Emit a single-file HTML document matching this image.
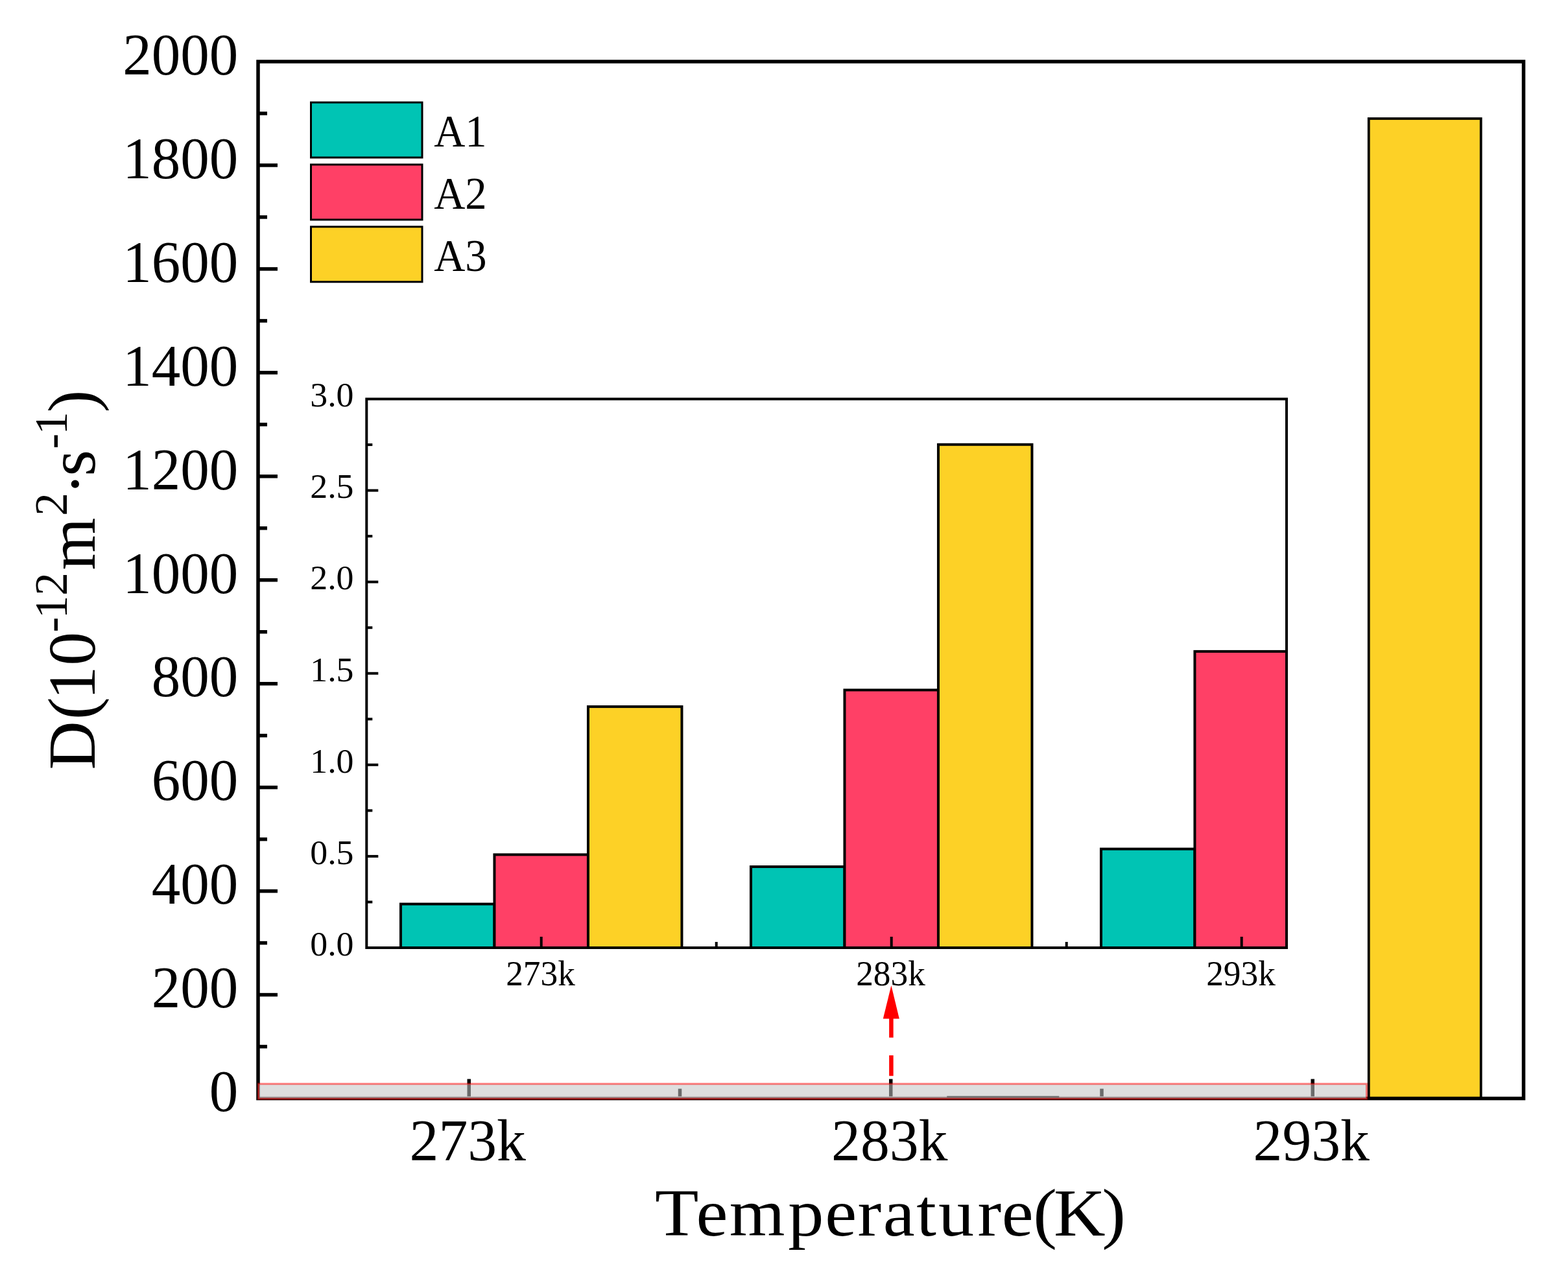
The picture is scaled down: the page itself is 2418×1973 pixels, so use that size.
<!DOCTYPE html>
<html><head><meta charset="utf-8"><style>html,body{margin:0;padding:0;background:#fff;}svg{display:block;}</style></head>
<body>
<svg width="2418" height="1973" viewBox="0 0 2418 1973" font-family="&quot;Liberation Serif&quot;, serif" fill="#000">
<rect width="2418" height="1973" fill="#fff"/>
<rect x="2110.75" y="182.97" width="173.00" height="1511.53" fill="#FDD126" stroke="#000" stroke-width="3.8"/>
<g stroke="#000" stroke-width="5.5" fill="none">
<rect x="398.0" y="95.0" width="1951.5" height="1599.5" stroke-linejoin="miter"/>
<line x1="398.0" y1="1614.53" x2="412.0" y2="1614.53"/>
<line x1="398.0" y1="1534.55" x2="428.0" y2="1534.55"/>
<line x1="398.0" y1="1454.58" x2="412.0" y2="1454.58"/>
<line x1="398.0" y1="1374.60" x2="428.0" y2="1374.60"/>
<line x1="398.0" y1="1294.62" x2="412.0" y2="1294.62"/>
<line x1="398.0" y1="1214.65" x2="428.0" y2="1214.65"/>
<line x1="398.0" y1="1134.67" x2="412.0" y2="1134.67"/>
<line x1="398.0" y1="1054.70" x2="428.0" y2="1054.70"/>
<line x1="398.0" y1="974.73" x2="412.0" y2="974.73"/>
<line x1="398.0" y1="894.75" x2="428.0" y2="894.75"/>
<line x1="398.0" y1="814.77" x2="412.0" y2="814.77"/>
<line x1="398.0" y1="734.80" x2="428.0" y2="734.80"/>
<line x1="398.0" y1="654.83" x2="412.0" y2="654.83"/>
<line x1="398.0" y1="574.85" x2="428.0" y2="574.85"/>
<line x1="398.0" y1="494.88" x2="412.0" y2="494.88"/>
<line x1="398.0" y1="414.90" x2="428.0" y2="414.90"/>
<line x1="398.0" y1="334.92" x2="412.0" y2="334.92"/>
<line x1="398.0" y1="254.95" x2="428.0" y2="254.95"/>
<line x1="398.0" y1="174.97" x2="412.0" y2="174.97"/>
<line x1="723.25" y1="1694.5" x2="723.25" y2="1664.5"/>
<line x1="1373.75" y1="1694.5" x2="1373.75" y2="1664.5"/>
<line x1="2024.25" y1="1694.5" x2="2024.25" y2="1664.5"/>
<line x1="1048.50" y1="1694.5" x2="1048.50" y2="1679.5"/>
<line x1="1699.00" y1="1694.5" x2="1699.00" y2="1679.5"/>
</g>
<rect x="398.5" y="1672" width="1709.00" height="23.00" fill="rgb(195,195,195)" fill-opacity="0.55" stroke="#f00" stroke-opacity="0.5" stroke-width="3.0"/>
<rect x="400.80" y="1691.0" width="1705.20" height="2.2" fill="rgb(205,195,195)" fill-opacity="0.6"/>
<rect x="1460.25" y="1690.7" width="173.00" height="2.2" fill="#6e6e6e"/>
<text transform="translate(322.86,1714.29) scale(0.9788,1)" font-size="90.98">0</text>
<text transform="translate(233.81,1554.34) scale(0.9788,1)" font-size="90.98">200</text>
<text transform="translate(233.81,1394.39) scale(0.9788,1)" font-size="90.98">400</text>
<text transform="translate(233.81,1234.44) scale(0.9788,1)" font-size="90.98">600</text>
<text transform="translate(233.81,1074.49) scale(0.9788,1)" font-size="90.98">800</text>
<text transform="translate(189.28,914.54) scale(0.9788,1)" font-size="90.98">1000</text>
<text transform="translate(189.28,754.59) scale(0.9788,1)" font-size="90.98">1200</text>
<text transform="translate(189.28,594.64) scale(0.9788,1)" font-size="90.98">1400</text>
<text transform="translate(189.28,434.69) scale(0.9788,1)" font-size="90.98">1600</text>
<text transform="translate(189.28,274.74) scale(0.9788,1)" font-size="90.98">1800</text>
<text transform="translate(189.28,114.79) scale(0.9788,1)" font-size="90.98">2000</text>
<text transform="translate(631.55,1789.58) scale(0.9793,1)" font-size="91.62">273k</text>
<text transform="translate(1282.05,1789.58) scale(0.9793,1)" font-size="91.62">283k</text>
<text transform="translate(1932.55,1789.58) scale(0.9793,1)" font-size="91.62">293k</text>
<text transform="scale(1.06,1)" font-size="104.00" x="952.85 1012.74 1061.08 1146.39 1200.19 1247.63 1284.60 1333.21 1365.06 1422.21 1457.25 1503.10 1532.98 1603.16" y="1905.7">Temperature(K)</text>
<rect x="479.5" y="158.00" width="171.5" height="85" fill="#00C4B4" stroke="#000" stroke-width="3"/>
<rect x="479.5" y="253.90" width="171.5" height="85" fill="#FF4066" stroke="#000" stroke-width="3"/>
<rect x="479.5" y="349.80" width="171.5" height="85" fill="#FDD126" stroke="#000" stroke-width="3"/>
<text transform="translate(669.13,225.70) scale(0.9544,1)" font-size="69.85">A1</text>
<text transform="translate(669.13,321.60) scale(0.9544,1)" font-size="69.85">A2</text>
<text transform="translate(669.13,417.50) scale(0.9544,1)" font-size="69.85">A3</text>
<rect x="565.3" y="615.5" width="1418.70" height="846.50" fill="#fff"/>
<clipPath id="ic"><rect x="565.3" y="615.5" width="1418.70" height="846.50"/></clipPath>
<g clip-path="url(#ic)">
<rect x="617.95" y="1394.56" width="144.50" height="67.44" fill="#00C4B4" stroke="#000" stroke-width="4"/>
<rect x="762.45" y="1318.38" width="144.50" height="143.62" fill="#FF4066" stroke="#000" stroke-width="4"/>
<rect x="906.95" y="1090.10" width="144.50" height="371.90" fill="#FDD126" stroke="#000" stroke-width="4"/>
<rect x="1157.95" y="1337.00" width="144.50" height="125.00" fill="#00C4B4" stroke="#000" stroke-width="4"/>
<rect x="1302.45" y="1064.43" width="144.50" height="397.57" fill="#FF4066" stroke="#000" stroke-width="4"/>
<rect x="1446.95" y="685.76" width="144.50" height="776.24" fill="#FDD126" stroke="#000" stroke-width="4"/>
<rect x="1697.95" y="1309.63" width="144.50" height="152.37" fill="#00C4B4" stroke="#000" stroke-width="4"/>
<rect x="1842.45" y="1004.89" width="144.50" height="457.11" fill="#FF4066" stroke="#000" stroke-width="4"/>
</g>
<g stroke="#000" stroke-width="4" fill="none">
<rect x="565.3" y="615.5" width="1418.70" height="846.50"/>
<line x1="565.3" y1="1391.46" x2="574.3" y2="1391.46"/>
<line x1="565.3" y1="1320.92" x2="583.3" y2="1320.92"/>
<line x1="565.3" y1="1250.38" x2="574.3" y2="1250.38"/>
<line x1="565.3" y1="1179.83" x2="583.3" y2="1179.83"/>
<line x1="565.3" y1="1109.29" x2="574.3" y2="1109.29"/>
<line x1="565.3" y1="1038.75" x2="583.3" y2="1038.75"/>
<line x1="565.3" y1="968.21" x2="574.3" y2="968.21"/>
<line x1="565.3" y1="897.67" x2="583.3" y2="897.67"/>
<line x1="565.3" y1="827.12" x2="574.3" y2="827.12"/>
<line x1="565.3" y1="756.58" x2="583.3" y2="756.58"/>
<line x1="565.3" y1="686.04" x2="574.3" y2="686.04"/>
<line x1="834.70" y1="1462.0" x2="834.70" y2="1445.0"/>
<line x1="1374.70" y1="1462.0" x2="1374.70" y2="1445.0"/>
<line x1="1914.70" y1="1462.0" x2="1914.70" y2="1445.0"/>
<line x1="1104.70" y1="1462.0" x2="1104.70" y2="1453.0"/>
<line x1="1644.70" y1="1462.0" x2="1644.70" y2="1453.0"/>
</g>
<text transform="translate(478.21,1473.80) scale(1.0221,1)" font-size="52.70">0.0</text>
<text transform="translate(478.21,1332.72) scale(1.0221,1)" font-size="52.70">0.5</text>
<text transform="translate(478.21,1191.63) scale(1.0221,1)" font-size="52.70">1.0</text>
<text transform="translate(478.21,1050.55) scale(1.0221,1)" font-size="52.70">1.5</text>
<text transform="translate(478.21,909.47) scale(1.0221,1)" font-size="52.70">2.0</text>
<text transform="translate(478.21,768.38) scale(1.0221,1)" font-size="52.70">2.5</text>
<text transform="translate(478.21,627.30) scale(1.0221,1)" font-size="52.70">3.0</text>
<text transform="translate(780.20,1519.6) scale(0.9738,1)" font-size="54.76">273k</text>
<text transform="translate(1320.20,1519.6) scale(0.9738,1)" font-size="54.76">283k</text>
<text transform="translate(1860.20,1519.6) scale(0.9738,1)" font-size="54.76">293k</text>
<line x1="1374.4" y1="1659.7" x2="1374.4" y2="1628" stroke="#f00" stroke-width="6.5"/>
<line x1="1374.4" y1="1600.6" x2="1374.4" y2="1570" stroke="#f00" stroke-width="6.5"/>
<polygon points="1374.4,1520.2 1386.8,1571.5 1361.8,1571.5" fill="#f00"/>
<g transform="translate(145.8,1187) rotate(-90)">
<text font-size="104.00"><tspan x="-0.42 77.11 107.54 160.25" y="0.00">D(10</tspan><tspan x="211.61 232.70 268.30" y="-42.40" font-size="71.21">-12</tspan><tspan x="307.54" y="0.00">m</tspan><tspan x="391.35" y="-42.40" font-size="71.21">2</tspan><tspan x="423.13" y="4.00">·</tspan><tspan x="452.51" y="0.00">s</tspan><tspan x="494.61 516.20" y="-42.40" font-size="71.21">-1</tspan><tspan x="550.76" y="0.00">)</tspan></text>
</g>
</svg>
</body></html>
